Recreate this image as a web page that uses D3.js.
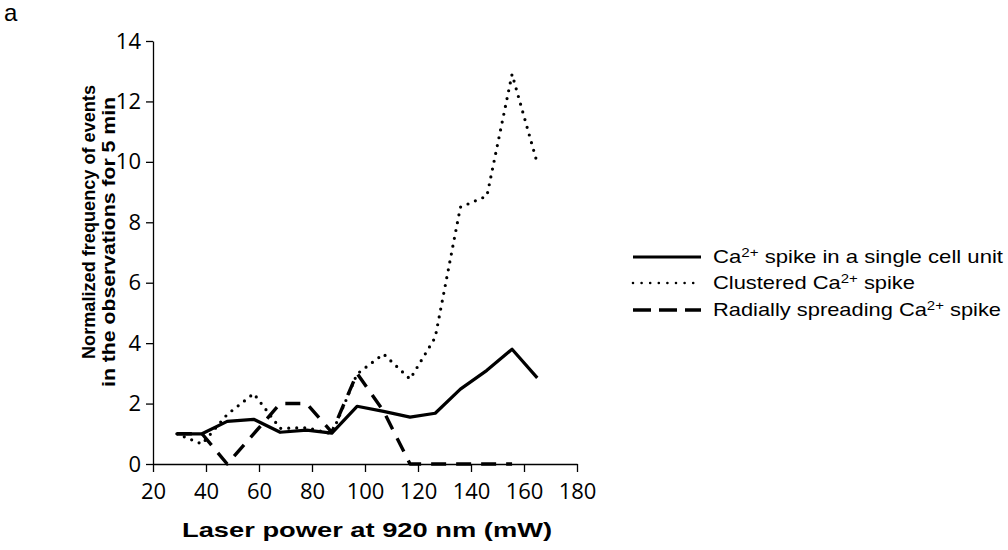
<!DOCTYPE html>
<html>
<head>
<meta charset="utf-8">
<script src="https://cdn.jsdelivr.net/npm/d3@7"></script>
<style>
  body { margin: 0; background: #fff; }
  svg { display: block; }
</style>
</head>
<body>
<svg id="chart"></svg>
<script>
// laser power (mW) for each observation
const power = [29, 38.5, 48, 58, 68, 78, 87.5, 97, 107, 117, 126.5, 136, 146, 155.5, 165]
// normalized frequency of events, one array per event type
const singleCell = [1.0, 1.0, 1.41, 1.48, 1.05, 1.12, 1.02, 1.91, 1.74, 1.55, 1.68, 2.48, 3.1, 3.8, 2.85]
const clustered = [1.0, 0.66, 1.64, 2.33, 1.18, 1.2, 1.0, 2.98, 3.64, 2.81, 4.19, 8.5, 8.87, 12.9, 9.96]
const radial = [1.0, 1.0, 0, 1.0, 2.0, 2.0, 1.05, 3.0, 1.75, 0, 0, 0, 0, 0]

const xTicks = [20, 40, 60, 80, 100, 120, 140, 160, 180]
const yTicks = [0, 2, 4, 6, 8, 10, 12, 14]

const seriesNames = ["single", "clustered", "radial"]
const seriesValues = [singleCell, clustered, radial]

let config = {
    width: 1008,
    height: 550,
    left: 153, right: 577,
    top: 41, bottom: 464,
    font: "'Liberation Sans', Arial, Helvetica, sans-serif",
    tickFont: "'Open Sans', sans-serif"
}

const styles = {
    single: { dash: null, width: 3.2, cap: "butt" },
    clustered: { dash: "0 8", width: 3.2, cap: "round" },
    radial: { dash: "15 10", width: 3.4, cap: "butt" }
}

const svg = d3.select("svg#chart")
    .attr("width", config.width)
    .attr("height", config.height)
    .style("font-family", config.font)

const x = d3.scaleLinear().domain([20, 180]).range([config.left, config.right])
const y = d3.scaleLinear().domain([0, 14]).range([config.bottom, config.top])

// axes
const xAxis = svg.append("g")
    .attr("transform", `translate(0,${config.bottom})`)
    .call(d3.axisBottom(x).tickValues(xTicks).tickSize(8).tickPadding(7).tickSizeOuter(0))
const yAxis = svg.append("g")
    .attr("transform", `translate(${config.left},0)`)
    .call(d3.axisLeft(y).tickValues(yTicks).tickSize(7).tickPadding(5).tickSizeOuter(0))

for (const ax of [xAxis, yAxis]) {
    ax.attr("font-size", null).attr("font-family", null)
    ax.select(".domain").attr("stroke", "#000").attr("stroke-width", 1.3)
    ax.selectAll(".tick line").attr("stroke", "#000").attr("stroke-width", 1.3)
    ax.selectAll(".tick text")
        .style("font-family", config.tickFont)
        .style("font-size", "22px")
        .attr("fill", "#000")
}
xAxis.selectAll(".tick text").attr("dy", "0.9em")

// series lines
seriesNames.forEach((name, i) => {
    const vals = seriesValues[i]
    const pts = vals.map((v, j) => [power[j], v])
    const line = d3.line().x(d => x(d[0])).y(d => y(d[1]))
    svg.append("path")
        .datum(pts)
        .attr("d", line)
        .attr("fill", "none")
        .attr("stroke", "#000")
        .attr("stroke-width", styles[name].width)
        .attr("stroke-linecap", styles[name].cap)
        .attr("stroke-linejoin", "round")
        .attr("stroke-dasharray", styles[name].dash)
})

// panel label
svg.append("text").text("a")
    .attr("x", 4).attr("y", 21)
    .style("font-size", "24px")

// axis titles
svg.append("text")
    .text("Laser power at 920 nm (mW)")
    .attr("x", (config.left + config.right) / 2 + 2)
    .attr("y", 537)
    .attr("text-anchor", "middle")
    .attr("textLength", 370)
    .attr("lengthAdjust", "spacingAndGlyphs")
    .style("font-size", "21px")
    .style("font-weight", "bold")

const yTitle = [
    { label: "Normalized frequency of events", x: 95, y: 222, len: 274 },
    { label: "in the observations for 5 min", x: 115, y: 242, len: 290 }
]
yTitle.forEach(t => {
    svg.append("text")
        .text(t.label)
        .attr("transform", `translate(${t.x},${t.y}) rotate(-90)`)
        .attr("text-anchor", "middle")
        .attr("textLength", t.len)
        .attr("lengthAdjust", "spacingAndGlyphs")
        .style("font-size", "19px")
        .style("font-weight", "bold")
})

// legend
const legendItems = [
    { name: "single", parts: ["Ca", "2+", " spike in a single cell unit"], y: 257, len: 290 },
    { name: "clustered", parts: ["Clustered Ca", "2+", " spike"], y: 283, len: 202 },
    { name: "radial", parts: ["Radially spreading Ca", "2+", " spike"], y: 310, len: 288 }
]
const legend = svg.append("g")
legendItems.forEach(item => {
    const st = styles[item.name]
    legend.append("line")
        .attr("x1", 633).attr("x2", 701)
        .attr("y1", item.y).attr("y2", item.y)
        .attr("stroke", "#000")
        .attr("stroke-width", item.name === "clustered" ? 2.6 : st.width)
        .attr("stroke-linecap", st.cap)
        .attr("stroke-dasharray", item.name === "radial" ? "18 8" : (item.name === "clustered" ? "0 8.6" : null))
    const t = legend.append("text")
        .attr("x", 713).attr("y", item.y + 6)
        .attr("textLength", item.len)
        .attr("lengthAdjust", "spacingAndGlyphs")
        .style("font-size", "19px")
    t.append("tspan").text(item.parts[0])
    t.append("tspan").text(item.parts[1]).attr("dy", -6).style("font-size", "13px")
    t.append("tspan").text(item.parts[2]).attr("dy", 6)
})
</script>
</body>
</html>
